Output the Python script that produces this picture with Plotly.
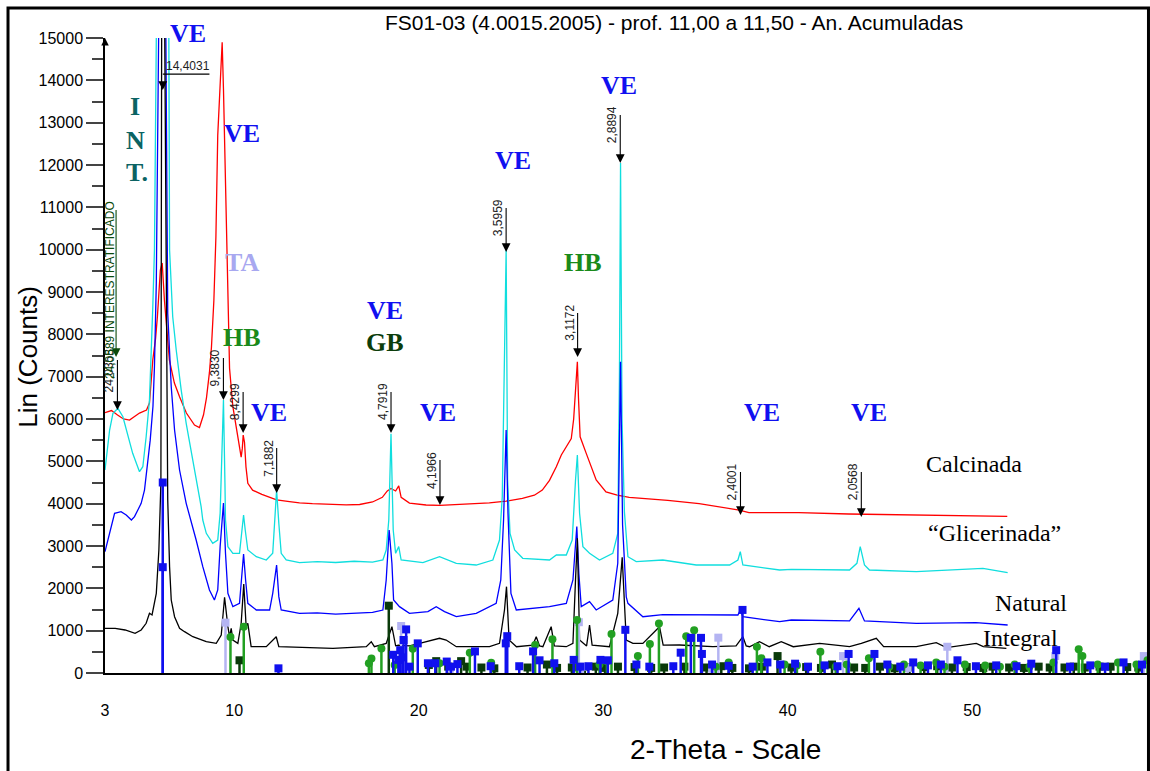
import math
import plotly.graph_objects as go

# ---------------- data (2-theta, counts) ----------------
calcinada = [(3.0, 6150), (3.35, 6200), (3.68, 6094), (4.0, 6000), (4.33, 5976), (4.6, 6050), (4.87, 6141),
             (5.25, 6212), (5.41, 6377), (5.59, 7393), (5.74, 7900), (5.84, 8416), (6.0, 9519), (6.1, 9684),
             (6.22, 8810), (6.49, 7393), (6.76, 6850), (7.04, 6526), (7.41, 6141), (7.85, 5858), (8.12, 5800),
             (8.34, 6100), (8.5, 6500), (8.66, 7100), (8.77, 7700), (8.9, 8800), (9.01, 10300), (9.11, 12700),
             (9.23, 14000), (9.35, 14900), (9.42, 13800), (9.55, 11000), (9.62, 9755), (9.66, 8400), (9.75, 7200),
             (9.93, 6290), (10.12, 5800), (10.29, 5400), (10.38, 5100), (10.44, 5300), (10.49, 5620), (10.56, 5450),
             (10.64, 4870), (10.74, 4480), (11.0, 4320), (11.5, 4220), (12.0, 4150), (12.3, 4090), (13.0, 4050),
             (13.54, 4020), (14.24, 4000), (15.16, 3990), (16.07, 3970), (16.8, 3980), (17.5, 4040), (18.03, 4150),
             (18.3, 4300), (18.5, 4360), (18.75, 4300), (18.92, 4420), (19.05, 4150), (19.5, 4015), (20.4, 3968),
             (21.15, 3960), (22.2, 3980), (23.83, 4020), (24.74, 4060), (25.62, 4125), (26.27, 4200), (26.7, 4322),
             (27.09, 4550), (27.46, 4870), (27.73, 5150), (28.0, 5350), (28.27, 5540), (28.4, 6000), (28.5, 6600),
             (28.6, 7350), (28.66, 6500), (28.75, 5580), (29.07, 5200), (29.34, 4900), (29.62, 4560), (30.15, 4280),
             (30.76, 4200), (31.41, 4150), (32.5, 4120), (33.5, 4080), (35.2, 4000), (37.37, 3850), (37.9, 3790),
             (40.6, 3790), (43.3, 3756), (46.0, 3740), (48.75, 3730), (51.9, 3700)]

glicerinada = [(3.0, 4795), (3.25, 5740), (3.43, 6134), (3.7, 6252), (3.97, 6054), (4.15, 5740), (4.5, 5189),
               (4.87, 4755), (5.05, 4873), (5.23, 5581), (5.41, 6448), (5.59, 8650), (5.68, 9991), (5.78, 15000),
               (5.95, 24000), (6.13, 30000), (6.3, 24000), (6.46, 15000), (6.5, 9991), (6.67, 8416), (6.86, 7629),
               (7.13, 6684), (7.4, 5898), (7.67, 5267), (7.94, 4637), (8.21, 3928), (8.3, 3614), (8.49, 3300),
               (8.84, 3064), (9.11, 3141), (9.24, 3772), (9.33, 5000), (9.42, 6448), (9.5, 4500), (9.53, 3614),
               (9.66, 2985), (9.93, 2827), (10.29, 2827), (10.44, 3378), (10.51, 3732), (10.6, 3378), (10.74, 2905),
               (11.2, 2747), (11.74, 2669), (12.09, 2827), (12.22, 3772), (12.3, 4322), (12.42, 3536), (12.55, 2827),
               (12.82, 2669), (13.54, 2606), (14.5, 2630), (15.5, 2610), (16.5, 2640), (17.5, 2620), (18.06, 2669),
               (18.24, 2905), (18.38, 3614), (18.5, 5650), (18.62, 3378), (18.75, 2827), (18.92, 2985), (19.05, 2669),
               (20.23, 2606), (21.13, 2747), (22.04, 2591), (23.12, 2551), (24.02, 2669), (24.38, 3141), (24.53, 4164),
               (24.63, 6921), (24.74, 9991), (24.82, 4559), (24.95, 3300), (25.2, 2905), (25.64, 2709), (27.09, 2669),
               (27.46, 2787), (28.0, 2787), (28.32, 3141), (28.5, 4559), (28.6, 5149), (28.72, 3772), (28.9, 2985),
               (29.26, 2827), (29.8, 2669), (30.52, 2827), (30.79, 3300), (30.88, 7000), (30.94, 12046), (31.02, 6000),
               (31.15, 3800), (31.34, 2747), (31.79, 2630), (33.23, 2669), (35.04, 2551), (36.85, 2551), (37.3, 2669),
               (37.43, 2865), (37.57, 2551), (39.56, 2433), (40.2, 2449), (43.35, 2433), (43.75, 2591), (43.93, 2985),
               (44.16, 2551), (44.43, 2433), (46.97, 2393), (50.58, 2473), (51.92, 2370)]

natural = [(3.0, 2866), (3.25, 3300), (3.52, 3772), (3.87, 3811), (4.15, 3733), (4.43, 3614), (4.6, 3693),
           (4.78, 3850), (4.96, 4008), (5.14, 4322), (5.32, 4953), (5.45, 5500), (5.6, 6300), (5.68, 7235),
           (5.78, 9204), (5.84, 15000), (6.1, 24000), (6.3, 15000), (6.4, 8500), (6.59, 6762), (6.77, 5740),
           (7.04, 4795), (7.4, 4008), (7.94, 3141), (8.3, 2511), (8.66, 1961), (8.93, 1724), (9.11, 1961),
           (9.24, 2985), (9.42, 4015), (9.53, 2827), (9.66, 1882), (9.93, 1567), (10.29, 1646), (10.44, 2511),
           (10.51, 2810), (10.62, 2197), (10.74, 1646), (11.2, 1488), (11.92, 1488), (12.09, 1882), (12.3, 2551),
           (12.42, 1803), (12.55, 1488), (13.54, 1410), (14.5, 1420), (15.5, 1390), (16.5, 1410), (17.5, 1430),
           (18.06, 1488), (18.24, 2197), (18.4, 3378), (18.55, 2591), (18.64, 1724), (18.96, 1567), (19.5, 1410),
           (20.5, 1450), (20.95, 1567), (21.4, 1450), (22.04, 1330), (23.12, 1410), (24.2, 1646), (24.45, 2197),
           (24.6, 3614), (24.74, 5740), (24.84, 3772), (25.0, 1882), (25.29, 1488), (27.09, 1567), (28.0, 1646),
           (28.36, 2197), (28.57, 3457), (28.68, 2355), (28.81, 1567), (29.26, 1685), (29.62, 1488), (30.52, 1724),
           (30.79, 2591), (30.94, 7350), (31.05, 3500), (31.25, 1800), (31.34, 1646), (32.15, 1330), (33.23, 1380),
           (35.94, 1370), (37.3, 1370), (37.43, 1488), (37.57, 1330), (39.56, 1212), (40.2, 1252), (43.35, 1230),
           (43.86, 1528), (44.16, 1230), (46.97, 1173), (50.2, 1190), (51.92, 1134)]

integral = [(3.0, 1056), (3.55, 1056), (4.09, 1016), (4.63, 937), (4.96, 1016), (5.23, 1174), (5.41, 1410),
            (5.55, 1370), (5.78, 1882), (5.92, 2905), (6.03, 4500), (6.07, 15000), (6.15, 21000), (6.24, 15000),
            (6.4, 4086), (6.5, 2511), (6.59, 1724), (6.77, 1330), (7.04, 1056), (7.31, 976), (7.76, 857),
            (8.49, 739), (9.03, 700), (9.3, 897), (9.48, 1790), (9.66, 1094), (9.75, 857), (9.84, 1056),
            (9.93, 779), (10.2, 700), (10.38, 1174), (10.52, 2100), (10.65, 1094), (10.74, 1174), (10.92, 621),
            (11.74, 621), (12.28, 857), (12.42, 621), (15.35, 583), (17.16, 621), (17.43, 739), (17.6, 621),
            (18.24, 700), (18.55, 1094), (18.75, 643), (18.9, 660), (19.5, 640), (20.05, 700), (21.13, 820),
            (21.49, 779), (22.04, 621), (23.84, 621), (24.38, 700), (24.65, 1488), (24.76, 2039), (24.9, 779),
            (25.3, 621), (26.19, 660), (26.37, 857), (26.55, 640), (26.73, 621), (27.18, 1094), (27.35, 640),
            (28.0, 621), (28.36, 700), (28.5, 2200), (28.6, 3181), (28.72, 779), (29.1, 640), (29.26, 1134),
            (29.4, 660), (30.34, 621), (30.79, 1410), (31.03, 2732), (31.25, 779), (31.61, 700), (32.15, 700),
            (33.05, 1094), (33.25, 660), (34.14, 661), (35.94, 621), (37.2, 640), (37.57, 857), (37.75, 640),
            (37.93, 621), (38.47, 739), (39.0, 621), (39.65, 739), (40.3, 621), (41.73, 700), (43.35, 621),
            (43.99, 700), (44.8, 820), (45.2, 621), (46.97, 621), (48.05, 716), (48.6, 600), (50.22, 700),
            (50.6, 621), (51.85, 583)]

# reference-pattern sticks (2-theta, height)
sticks_blue = [(6.13, 4500), (6.13, 2500), (12.40, 110), (18.62, 430), (18.9, 310), (19.0, 540), (19.18, 780),
               (19.32, 1030), (19.12, 370), (19.5, 150), (19.95, 700), (20.5, 230), (20.9, 230), (21.52, 270),
               (21.75, 150), (22.1, 210), (23.05, 510), (23.9, 160), (24.72, 700), (24.8, 870), (25.45, 160),
               (26.2, 510), (26.55, 300), (27.35, 230), (28.4, 310), (28.75, 150), (29.2, 160), (29.85, 310),
               (30.25, 300), (31.2, 1020), (31.8, 200), (32.5, 150), (33.8, 160), (34.2, 480), (34.75, 830),
               (35.3, 830), (35.35, 450), (35.9, 200), (36.8, 170), (37.55, 1490), (38.1, 150), (38.9, 250),
               (39.6, 200), (40.4, 220), (41.1, 150), (42.0, 180), (42.7, 160), (43.3, 450), (44.7, 450),
               (45.4, 200), (46.1, 150), (46.8, 250), (47.6, 180), (48.3, 200), (49.2, 300), (50.2, 160),
               (51.3, 180), (52.4, 160), (53.2, 220), (54.55, 540), (55.3, 150), (56.4, 180), (57.2, 150),
               (58.2, 250), (59.2, 200)]
sticks_lavender = [(9.53, 1190), (19.05, 1110), (28.68, 1200), (36.24, 835), (43.0, 400), (48.65, 620),
                   (54.5, 400), (59.3, 400), (21.7, 100), (35.9, 100), (46.5, 120), (28.9, 150)]
sticks_green = [(9.8, 850), (10.52, 1090), (17.3, 230), (17.44, 340), (17.98, 580), (18.7, 190), (19.68, 575),
                (21.13, 230), (22.77, 480), (23.93, 240), (26.31, 660), (27.25, 795), (28.58, 1250), (29.8, 200),
                (30.2, 280), (30.45, 920), (31.88, 400), (32.53, 685), (33.02, 1170), (34.5, 870), (34.93, 1010),
                (36.1, 150), (36.8, 250), (38.33, 620), (38.57, 350), (39.83, 200), (40.5, 180), (41.77, 500),
                (42.6, 150), (43.2, 200), (44.4, 350), (45.5, 150), (46.3, 200), (47.2, 180), (48.05, 250),
                (48.5, 150), (49.6, 200), (50.7, 180), (51.5, 150), (52.3, 200), (53.1, 150), (54.4, 250),
                (55.77, 560), (55.97, 400), (56.8, 200), (57.9, 250), (58.9, 200), (59.5, 300)]
sticks_darkgreen = [(10.29, 300), (18.38, 1590), (20.55, 190), (20.95, 280), (21.6, 150), (22.3, 280), (22.6, 150),
                    (23.4, 130), (24.1, 110), (25.9, 130), (26.95, 200), (27.5, 120), (28.3, 130), (29.0, 140),
                    (29.6, 150), (30.1, 120), (30.8, 150), (31.7, 140), (32.6, 120), (33.3, 130), (34.4, 150),
                    (35.6, 130), (36.4, 160), (37.0, 120), (37.9, 110), (38.6, 150), (39.45, 400), (40.2, 130),
                    (41.0, 140), (41.8, 120), (42.4, 200), (43.6, 130), (44.2, 120), (45.0, 150), (45.8, 110),
                    (46.6, 130), (47.4, 140), (48.1, 160), (48.9, 130), (49.7, 140), (50.6, 120), (51.1, 150),
                    (52.0, 130), (52.8, 120), (53.6, 150), (54.2, 130), (55.0, 130), (55.5, 150), (56.1, 130),
                    (56.9, 150), (57.5, 150), (58.4, 140), (59.0, 130)]

# d-spacing markers: (label, d, tip counts, leader length px)
d_marks = [("9,3830", 9.3830, 6448, 52), ("8,4299", 8.4299, 5669, 51), ("7,1882", 7.1882, 4252, 55),
           ("4,7919", 4.7919, 5669, 51), ("4,1966", 4.1966, 3968, 55), ("3,5959", 3.5959, 9944, 54),
           ("3,1172", 3.1172, 7464, 54), ("2,8894", 2.8894, 12046, 58), ("2,4001", 2.4001, 3732, 53),
           ("2,0568", 2.0568, 3685, 55), ("24,0358", 24.0358, 6212, 60)]
WAVELENGTH = 1.5406

# phase labels: (text, 2-theta, counts, colour)
phase_labels = [("VE", 7.52, 15117, "#1010f0"), ("I", 4.65, 13393, "#0b6363"), ("N", 4.65, 12590, "#0b6363"),
                ("T.", 4.76, 11834, "#0b6363"), ("VE", 10.45, 12755, "#1010f0"), ("TA", 10.45, 9708, "#a8a8f0"),
                ("HB", 10.45, 7936, "#1a8a1a"), ("VE", 11.91, 6165, "#1010f0"), ("VE", 18.15, 8574, "#1010f0"),
                ("GB", 18.15, 7818, "#0b3d0b"), ("VE", 21.02, 6165, "#1010f0"), ("VE", 25.09, 12117, "#1010f0"),
                ("HB", 28.88, 9708, "#1a8a1a"), ("VE", 30.83, 13889, "#1010f0"), ("VE", 38.63, 6165, "#1010f0"),
                ("VE", 44.38, 6165, "#1010f0")]
curve_labels = [("Calcinada", 50.07, 4937), ("\u201cGlicerinada\u201d", 51.21, 3307),
                ("Natural", 53.16, 1653), ("Integral", 52.62, 827)]

x_tick_vals = [3, 10, 20, 30, 40, 50]
x_tick_text = ["3", "10", "20", "30", "40", "50"]

SANS = "Liberation Sans, Arial, sans-serif"
SERIF = "Liberation Serif, Times New Roman, serif"

fig = go.Figure()


def add_curve(data, color):
    fig.add_trace(go.Scatter(x=[p[0] for p in data], y=[p[1] for p in data], mode="lines",
                             line=dict(color=color, width=1.3), hoverinfo="skip", showlegend=False))


add_curve(calcinada, "#ff0000")
add_curve(glicerinada, "#10dede")
add_curve(natural, "#0000ff")
add_curve(integral, "#000000")


def add_sticks(data, color, symbol, width):
    xs, ys = [], []
    for t, h in data:
        xs += [t, t, None]
        ys += [0, h, None]
    fig.add_trace(go.Scatter(x=xs, y=ys, mode="lines", line=dict(color=color, width=width),
                             hoverinfo="skip", showlegend=False))
    fig.add_trace(go.Scatter(x=[p[0] for p in data], y=[p[1] for p in data], mode="markers",
                             marker=dict(symbol=symbol, size=8, color=color), cliponaxis=False,
                             hoverinfo="skip", showlegend=False))


add_sticks(sticks_darkgreen, "#0a3a0a", "square", 2.5)
add_sticks(sticks_lavender, "#b4b4f2", "square", 2.5)
add_sticks(sticks_green, "#22a022", "circle", 2.5)
add_sticks(sticks_blue, "#1010ee", "square", 2.5)

annotations = []
# d-spacing leaders and rotated labels
for label, d, tip, length in d_marks:
    t = 2 * math.degrees(math.asin(WAVELENGTH / (2 * d)))
    annotations.append(dict(x=t, y=tip, xref="x", yref="y", text=" ", showarrow=True, ax=0, ay=-length,
                            arrowhead=2, arrowsize=1.6, arrowwidth=1.1, arrowcolor="black", standoff=0))
    annotations.append(dict(x=t, y=tip, xref="x", yref="y", text=label, showarrow=False, textangle=-90,
                            xanchor="center", yanchor="middle",
                            xshift=-8, yshift=length - 20, font=dict(family=SANS, size=12, color="#222")))

# green interstratified marker
annotations.append(dict(x=3.60, y=7464, xref="x", yref="y", text=" ", showarrow=True, ax=0, ay=-157,
                        arrowhead=2, arrowsize=1.6, arrowwidth=1.1, arrowcolor="#0a4a0a", standoff=0))
annotations.append(dict(x=3.60, y=7464, xref="x", yref="y", text="24,0589 INTERESTRATIFICADO", showarrow=False,
                        textangle=-90, xanchor="center", yanchor="middle", xshift=-6, yshift=67,
                        font=dict(family=SANS, size=12, color="#0a4a0a")))

# 14,4031 marker (horizontal label)
t144 = 2 * math.degrees(math.asin(WAVELENGTH / (2 * 14.4031)))
annotations.append(dict(x=t144, y=13770, xref="x", yref="y", text=" ", showarrow=True, ax=0, ay=-16,
                        arrowhead=2, arrowsize=1.6, arrowwidth=1.1, arrowcolor="black", standoff=0))
annotations.append(dict(x=t144, y=13770, xref="x", yref="y", text="14,4031", showarrow=False,
                        xanchor="left", yanchor="middle", xshift=1, yshift=24,
                        font=dict(family=SANS, size=12, color="#222")))

# small arrowhead at the top of the y axis
annotations.append(dict(x=0, y=15000, xref="paper", yref="y", text=" ", showarrow=True, ax=0, ay=12,
                        arrowhead=2, arrowsize=1, arrowwidth=1.5, arrowcolor="black", standoff=0))

for text, t, c, col in phase_labels:
    annotations.append(dict(x=t, y=c / 15000, xref="x", yref="paper", text="<b>%s</b>" % text, showarrow=False,
                            xanchor="center", yanchor="middle", font=dict(family=SERIF, size=26, color=col)))
for text, t, c in curve_labels:
    annotations.append(dict(x=t, y=c / 15000, xref="x", yref="paper", text=text, showarrow=False,
                            xanchor="center", yanchor="middle", font=dict(family=SERIF, size=24, color="black")))

annotations.append(dict(x=0.545, y=1.025, xref="paper", yref="paper", showarrow=False,
                        xanchor="center", yanchor="middle",
                        text="FS01-03 (4.0015.2005) - prof. 11,00 a 11,50 - An. Acumuladas",
                        font=dict(family=SANS, size=21, color="black")))
annotations.append(dict(x=-0.0738, y=0.498, xref="paper", yref="paper", showarrow=False, text="Lin (Counts)",
                        xanchor="center", yanchor="middle",
                        textangle=-90, font=dict(family=SANS, size=26, color="black")))
annotations.append(dict(x=0.594, y=-0.121, xref="paper", yref="paper", showarrow=False, text="2-Theta - Scale",
                        xanchor="center", yanchor="middle",
                        font=dict(family=SANS, size=28, color="black")))

shapes = [
    dict(type="line", xref="x", yref="y", x0=t144, x1=8.66, y0=14148, y1=14148, line=dict(color="black", width=1.2)),
    dict(type="rect", xref="paper", yref="paper", x0=-0.0929, x1=0.9995, y0=-0.2, y1=1.0472, layer="above",
         line=dict(color="black", width=3)),
]

XR = [3, 59.58]
fig.update_layout(
    width=1150, height=771, margin=dict(l=105, r=1, t=38, b=98),
    plot_bgcolor="white", paper_bgcolor="white", showlegend=False,
    annotations=annotations, shapes=shapes,
    xaxis=dict(range=XR, showgrid=False, zeroline=False, showline=True, linecolor="black", linewidth=1.5,
               tickvals=x_tick_vals, ticktext=x_tick_text, ticks="outside", ticklen=22,
               tickcolor="rgba(0,0,0,0)", tickfont=dict(family=SANS, size=16, color="black")),
    xaxis2=dict(range=XR, overlaying="x", anchor="y", side="bottom", showgrid=False, zeroline=False,
                tickvals=list(range(5, 60, 5)), ticks="outside", ticklen=17, tickwidth=1.5, tickcolor="#333",
                showticklabels=False,
                minor=dict(dtick=1, tick0=0, ticks="outside", ticklen=10, tickwidth=1.5, tickcolor="#333",
                           showgrid=False)),
    yaxis=dict(range=[0, 15000], dtick=1000, tick0=0, tickformat="d", ticks="outside", ticklen=17,
               tickwidth=1.5, tickcolor="#444", showline=True, linecolor="black", linewidth=1.5, showgrid=False,
               zeroline=False, tickfont=dict(family=SANS, size=16, color="black"),
               minor=dict(dtick=500, ticks="outside", ticklen=11, tickwidth=1.5, tickcolor="#444",
                          showgrid=False)),
)

fig.write_html("out.html", config={"displayModeBar": False},
               post_script="document.body.style.margin='0';document.body.style.overflow='hidden';")
